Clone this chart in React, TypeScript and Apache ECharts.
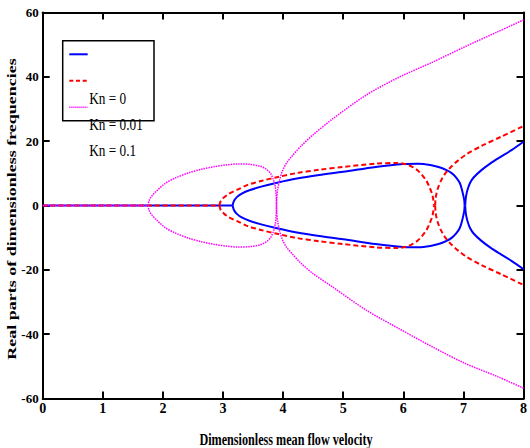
import React, { useEffect, useRef } from "react";
import * as echarts from "echarts";

// ---- Data ----
const xTicks = [0, 1, 2, 3, 4, 5, 6, 7, 8];
const yTicks = [-60, -40, -20, 0, 20, 40, 60];
const legendNames = ["Kn = 0", "Kn = 0.01", "Kn = 0.1"];

// Kn = 0 (blue, solid)
const kn0Zero: number[][] = [[0, 0], [3.16, 0]];
const kn0LobeUpper: number[][] = [
  [3.16, 0], [3.18, 1.3], [3.23, 2.6], [3.32, 3.8], [3.45, 4.8], [3.62, 5.8], [3.9, 7.1],
  [4.23, 8.4], [4.6, 9.5], [5.0, 10.5], [5.54, 12.0], [6.0, 12.9], [6.25, 13.0],
  [6.45, 12.6], [6.6, 11.9], [6.72, 11.0], [6.81, 10.0], [6.88, 8.7], [6.94, 7.0],
  [6.975, 5.0], [7.0, 3.0], [7.015, 1.5], [7.02, 0],
];
const kn0LobeLower: number[][] = [
  [3.16, 0], [3.18, -1.3], [3.23, -2.6], [3.32, -3.8], [3.45, -4.8], [3.62, -5.8], [3.9, -7.1],
  [4.23, -8.4], [4.6, -9.5], [5.0, -10.5], [5.54, -12.0], [6.0, -12.9], [6.25, -13.0],
  [6.45, -12.6], [6.6, -11.9], [6.72, -11.0], [6.81, -10.0], [6.88, -8.7], [6.94, -7.0],
  [6.975, -5.0], [7.0, -3.0], [7.015, -1.5], [7.02, 0],
];
const kn0RightUpper: number[][] = [
  [7.03, 0], [7.035, 1.5], [7.045, 3.0], [7.07, 5.0], [7.11, 7.0], [7.17, 8.7], [7.3, 11.0],
  [7.45, 13.1], [7.6, 14.9], [7.8, 17.2], [8.0, 19.8],
];
const kn0RightLower: number[][] = [
  [7.03, 0], [7.035, -1.5], [7.045, -3.0], [7.07, -5.0], [7.11, -7.0], [7.17, -8.7], [7.3, -11.0],
  [7.45, -13.1], [7.6, -14.9], [7.8, -17.2], [8.0, -19.8],
];

// Kn = 0.01 (red, dashed)
const kn001Zero: number[][] = [[0, 0], [2.94, 0]];
const kn001LobeUpper: number[][] = [
  [2.94, 0], [2.96, 1.3], [3.01, 2.4], [3.1, 3.7], [3.25, 5.0], [3.41, 6.4], [3.65, 7.7],
  [3.9, 8.8], [4.23, 10.1], [4.6, 11.1], [5.0, 12.0], [5.54, 13.0], [5.9, 13.2],
  [6.05, 12.8], [6.15, 12.0], [6.24, 10.9], [6.32, 9.3], [6.39, 7.5], [6.44, 5.5],
  [6.48, 3.5], [6.5, 1.7], [6.51, 0],
];
const kn001LobeLower: number[][] = [
  [2.94, 0], [2.96, -1.3], [3.01, -2.4], [3.1, -3.7], [3.25, -5.0], [3.41, -6.4], [3.65, -7.7],
  [3.9, -8.8], [4.23, -10.1], [4.6, -11.1], [5.0, -12.0], [5.54, -13.0], [5.9, -13.2],
  [6.05, -12.8], [6.15, -12.0], [6.24, -10.9], [6.32, -9.3], [6.39, -7.5], [6.44, -5.5],
  [6.48, -3.5], [6.5, -1.7], [6.51, 0],
];
const kn001RightUpper: number[][] = [
  [6.53, 0], [6.535, 1.7], [6.55, 3.6], [6.58, 5.6], [6.63, 7.8], [6.7, 10.0], [6.8, 12.1],
  [6.92, 14.1], [7.05, 15.9], [7.3, 18.5], [7.63, 21.4], [8.0, 24.7],
];
const kn001RightLower: number[][] = [
  [6.53, 0], [6.535, -1.7], [6.55, -3.6], [6.58, -5.6], [6.63, -7.8], [6.7, -10.0], [6.8, -12.1],
  [6.92, -14.1], [7.05, -15.9], [7.3, -18.5], [7.63, -21.4], [8.0, -24.7],
];

// Kn = 0.1 (magenta, dotted)
const kn01Zero: number[][] = [[0, 0], [1.75, 0]];
const kn01LobeUpper: number[][] = [
  [1.75, 0], [1.77, 1.5], [1.81, 2.8], [1.9, 4.6], [2.04, 6.9], [2.2, 8.5], [2.42, 10.1],
  [2.65, 11.3], [2.86, 12.1], [3.05, 12.6], [3.25, 12.9], [3.45, 12.8], [3.62, 12.2],
  [3.72, 11.3], [3.79, 10.0], [3.84, 8.0], [3.87, 5.8], [3.885, 3.0], [3.89, 0],
];
const kn01LobeLower: number[][] = [
  [1.75, 0], [1.77, -1.5], [1.81, -2.8], [1.9, -4.6], [2.04, -6.9], [2.2, -8.5], [2.42, -10.1],
  [2.65, -11.3], [2.86, -12.1], [3.05, -12.6], [3.25, -12.9], [3.45, -12.8], [3.62, -12.2],
  [3.72, -11.3], [3.79, -10.0], [3.84, -8.0], [3.87, -5.8], [3.885, -3.0], [3.89, 0],
];
const kn01RightUpper: number[][] = [
  [3.89, 0], [3.895, 2.5], [3.91, 5.0], [3.94, 7.8], [3.98, 10.3], [4.05, 13.0], [4.15, 15.4],
  [4.3, 18.5], [4.5, 22.0], [4.83, 27.0], [5.38, 34.3], [5.92, 39.8], [6.48, 44.5],
  [7.03, 49.4], [7.57, 54.0], [8.0, 57.7],
];
const kn01RightLower: number[][] = [
  [3.89, 0], [3.895, -2.5], [3.91, -5.0], [3.94, -7.8], [3.98, -10.2], [4.05, -12.8], [4.15, -15.0],
  [4.3, -18.0], [4.5, -21.2], [4.83, -25.4], [5.38, -32.5], [5.92, -38.2], [6.48, -43.9],
  [7.03, -49.1], [7.57, -53.2], [8.0, -56.8],
];

const BLUE = "#0000ff";
const RED = "#ff0000";
const MAGENTA = "#ff00ff";
const SERIF = "'Liberation Serif', 'Times New Roman', serif";

export default function App() {
  const ref = useRef<HTMLDivElement>(null);

  useEffect(() => {
    if (!ref.current) return;
    const chart = echarts.init(ref.current, undefined, { renderer: "svg" });

    const styles: Record<string, any> = {
      blue: { color: BLUE, width: 2, type: "solid" },
      red: { color: RED, width: 2, type: [5, 3] },
      magenta: { color: MAGENTA, width: 1.5, type: [1.5, 1] },
    };
    const mk = (name: string, data: number[][], key: string, z: number) => ({
      type: "line",
      name,
      data,
      showSymbol: false,
      symbol: "none",
      smooth: 0.3,
      lineStyle: styles[key],
      itemStyle: { color: styles[key].color },
      z,
      silent: true,
    });

    const series = [
      mk(legendNames[0], kn0Zero, "blue", 2),
      mk(legendNames[0], kn0LobeUpper, "blue", 2),
      mk(legendNames[0], kn0LobeLower, "blue", 2),
      mk(legendNames[0], kn0RightUpper, "blue", 2),
      mk(legendNames[0], kn0RightLower, "blue", 2),
      mk(legendNames[1], kn001Zero, "red", 3),
      mk(legendNames[1], kn001LobeUpper, "red", 3),
      mk(legendNames[1], kn001LobeLower, "red", 3),
      mk(legendNames[1], kn001RightUpper, "red", 3),
      mk(legendNames[1], kn001RightLower, "red", 3),
      mk(legendNames[2], kn01Zero, "magenta", 4),
      mk(legendNames[2], kn01LobeUpper, "magenta", 4),
      mk(legendNames[2], kn01LobeLower, "magenta", 4),
      mk(legendNames[2], kn01RightUpper, "magenta", 4),
      mk(legendNames[2], kn01RightLower, "magenta", 4),
    ];

    const axisLine = { show: true, onZero: false, lineStyle: { color: "#000", width: 2 } };
    const axisTick = { show: true, inside: true, length: 7, lineStyle: { color: "#000", width: 2 } };
    const label = {
      fontFamily: SERIF,
      fontWeight: "bold",
      color: "#000",
    };

    const legendLineY = [54.3, 80.7, 107.3];
    const legendTextY = [98.3, 124, 150];

    chart.setOption({
      animation: false,
      backgroundColor: "#fff",
      grid: { left: 42.7, right: 1, top: 12.5, bottom: 49.5, containLabel: false },
      xAxis: [
        {
          type: "value",
          min: xTicks[0],
          max: xTicks[xTicks.length - 1],
          interval: 1,
          position: "bottom",
          axisLine,
          axisTick,
          splitLine: { show: false },
          axisLabel: { ...label, fontSize: 14, margin: 3, formatter: (v: number) => String(v) },
        },
        {
          type: "value",
          min: xTicks[0],
          max: xTicks[xTicks.length - 1],
          interval: 1,
          position: "top",
          axisLine,
          axisTick,
          splitLine: { show: false },
          axisLabel: { show: false },
        },
      ],
      yAxis: [
        {
          type: "value",
          min: yTicks[0],
          max: yTicks[yTicks.length - 1],
          interval: 20,
          position: "left",
          axisLine,
          axisTick,
          splitLine: { show: false },
          axisLabel: { ...label, fontSize: 13, margin: 4 },
        },
        {
          type: "value",
          min: yTicks[0],
          max: yTicks[yTicks.length - 1],
          interval: 20,
          position: "right",
          axisLine,
          axisTick,
          splitLine: { show: false },
          axisLabel: { show: false },
        },
      ],
      series,
      graphic: [
        {
          type: "text",
          x: 286,
          y: 439,
          scaleX: 0.76,
          style: {
            text: "Dimensionless mean flow velocity",
            fontFamily: SERIF,
            fontWeight: "bold",
            fontSize: 16,
            fill: "#000",
            textAlign: "center",
            textVerticalAlign: "middle",
          },
        },
        {
          type: "text",
          x: 12,
          y: 209,
          rotation: Math.PI / 2,
          scaleY: 0.66,
          style: {
            text: "Real parts of dimensionless frequencies",
            fontFamily: SERIF,
            fontWeight: "bold",
            fontSize: 18,
            fill: "#000",
            textAlign: "center",
            textVerticalAlign: "middle",
          },
        },
        {
          type: "rect",
          shape: { x: 62.7, y: 40.7, width: 91.3, height: 80 },
          style: { fill: "#fff", stroke: "#000", lineWidth: 1.5 },
          z: 10,
        },
        {
          type: "line",
          shape: { x1: 69.3, y1: legendLineY[0], x2: 87.7, y2: legendLineY[0] },
          style: { stroke: BLUE, lineWidth: 2 },
          z: 11,
        },
        {
          type: "line",
          shape: { x1: 69.3, y1: legendLineY[1], x2: 87.7, y2: legendLineY[1] },
          style: { stroke: RED, lineWidth: 2, lineDash: [4, 2.7] },
          z: 11,
        },
        {
          type: "line",
          shape: { x1: 69.3, y1: legendLineY[2], x2: 87.7, y2: legendLineY[2] },
          style: { stroke: MAGENTA, lineWidth: 1.5, lineDash: [1.2, 0.8] },
          z: 11,
        },
        ...legendNames.map((name, i) => ({
          type: "text",
          x: 89.3,
          y: legendTextY[i],
          scaleX: 0.78,
          z: 12,
          style: {
            text: name,
            fontFamily: SERIF,
            fontSize: 17,
            fill: "#000",
            textAlign: "left",
            textVerticalAlign: "middle",
          },
        })),
      ],
    });

    return () => chart.dispose();
  }, []);

  return (
    <div
      ref={ref}
      style={{ position: "fixed", left: 0, top: 0, width: 530, height: 448, background: "#fff" }}
    />
  );
}
